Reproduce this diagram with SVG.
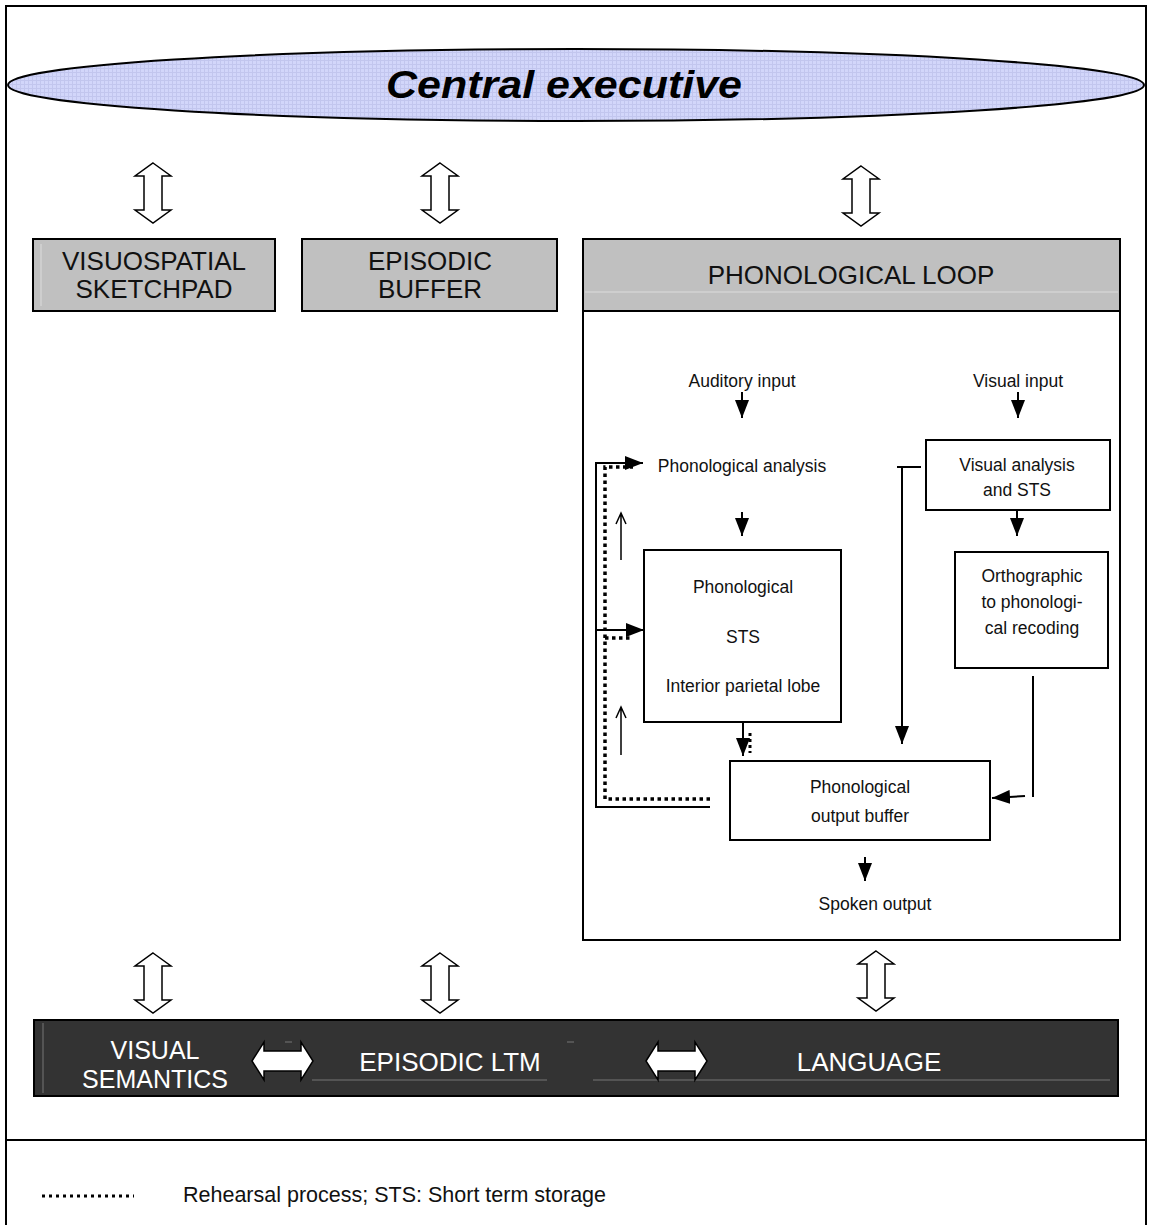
<svg xmlns="http://www.w3.org/2000/svg" xmlns:xlink="http://www.w3.org/1999/xlink" width="1150" height="1225" viewBox="0 0 1150 1225">
<style>
.frame{fill:none;stroke:#000;stroke-width:2}
.gbox{fill:#c0c0c0;stroke:#000;stroke-width:2}
.wbox{fill:#fff;stroke:#000;stroke-width:2}
.big{font-family:"Liberation Sans",Arial,sans-serif;font-size:26px;fill:#111;text-anchor:middle}
.bigw{font-family:"Liberation Sans",Arial,sans-serif;font-size:26px;fill:#fff;text-anchor:middle}
.sm{font-family:"Liberation Sans",Arial,sans-serif;font-size:17.5px;fill:#111;text-anchor:middle}
.leg{font-family:"Liberation Sans",Arial,sans-serif;font-size:21.5px;fill:#111}
.hollow{fill:#fff;stroke:#000;stroke-width:1.5;stroke-linejoin:miter}
.ln{fill:none;stroke:#000;stroke-width:2}
.thin{fill:none;stroke:#000;stroke-width:1.5}
.dot{fill:none;stroke:#000;stroke-width:3.5;stroke-dasharray:3.5 3.5}
.faint{stroke:#dcdcdc;stroke-width:1;fill:none}
.gline{stroke:#777;stroke-width:1;fill:none}
</style>
<defs>
<pattern id="grid" width="4" height="4" patternUnits="userSpaceOnUse">
<rect width="4" height="4" fill="#d2d6fa"/>
<path d="M0,0.5H4M0.5,0V4" stroke="#c2c6ee" stroke-width="1"/>
</pattern>
<marker id="ah" viewBox="0 0 18 14" refX="18" refY="7" markerWidth="18" markerHeight="14" markerUnits="userSpaceOnUse" orient="auto">
<path d="M0,0L18,7L0,14Z" fill="#000"/>
</marker>
<path id="vdarrow" class="hollow" d="M0,0L18,13L9,13L9,47L18,47L0,60L-18,47L-9,47L-9,13L-18,13Z"/>
<path id="hdarrow" d="M0,0L12,-19L12,-10L49,-10L49,-19L61,0L49,19L49,10L12,10L12,19Z" fill="#fff" stroke="#000" stroke-width="1.5"/>
</defs>

<rect x="6" y="6" width="1140" height="1230" class="frame"/>
<line x1="6" y1="1140" x2="1146" y2="1140" class="ln"/>

<g id="central-executive">
<ellipse cx="576" cy="85" rx="568" ry="36" fill="url(#grid)" stroke="#000" stroke-width="2"/>
<text x="564" y="98" font-family="Liberation Sans,Arial,sans-serif" font-size="38" font-weight="bold" font-style="italic" text-anchor="middle" fill="#000" textLength="356" lengthAdjust="spacingAndGlyphs">Central executive</text>
</g>

<g id="visuospatial-sketchpad">
<rect x="33" y="239" width="242" height="72" class="gbox"/>
<line x1="41" y1="244" x2="41" y2="306" class="faint"/>
<text x="154" y="270" class="big">VISUOSPATIAL</text>
<text x="154" y="298" class="big">SKETCHPAD</text>
</g>

<g id="episodic-buffer">
<rect x="302" y="239" width="255" height="72" class="gbox"/>
<text x="430" y="270" class="big">EPISODIC</text>
<text x="430" y="298" class="big">BUFFER</text>
</g>

<g id="phonological-loop">
<rect x="583" y="311" width="537" height="629" class="wbox"/>
<rect x="583" y="239" width="537" height="72" class="gbox"/>
<line x1="585" y1="292" x2="1118" y2="292" class="faint"/>
<text x="851" y="284" class="big">PHONOLOGICAL LOOP</text>
</g>

<g id="auditory-input"><text x="742" y="387" class="sm">Auditory input</text></g>
<g id="visual-input"><text x="1018" y="387" class="sm">Visual input</text></g>
<g id="phonological-analysis"><text x="742" y="472" class="sm">Phonological analysis</text></g>

<g id="phonological-sts">
<rect x="644" y="550" width="197" height="172" class="wbox"/>
<text x="743" y="593" class="sm">Phonological</text>
<text x="743" y="643" class="sm">STS</text>
<text x="743" y="692" class="sm">Interior parietal lobe</text>
</g>

<g id="visual-analysis">
<rect x="926" y="440" width="184" height="70" class="wbox"/>
<text x="1017" y="471" class="sm">Visual analysis</text>
<text x="1017" y="496" class="sm">and STS</text>
</g>

<g id="orthographic-recoding">
<rect x="955" y="552" width="153" height="116" class="wbox"/>
<text x="1032" y="582" class="sm">Orthographic</text>
<text x="1032" y="608" class="sm">to phonologi-</text>
<text x="1032" y="634" class="sm">cal recoding</text>
</g>

<g id="phonological-output-buffer">
<rect x="730" y="761" width="260" height="79" class="wbox"/>
<text x="860" y="793" class="sm">Phonological</text>
<text x="860" y="822" class="sm">output buffer</text>
</g>

<g id="spoken-output"><text x="875" y="910" class="sm">Spoken output</text></g>

<g id="ltm-bar">
<rect x="34" y="1020" width="1084" height="76" fill="#333" stroke="#000" stroke-width="2"/>
<line x1="43" y1="1023" x2="43" y2="1093" class="gline"/>
<line x1="312" y1="1080" x2="547" y2="1080" class="gline"/>
<line x1="593" y1="1080" x2="1110" y2="1080" class="gline"/>
<line x1="285" y1="1042" x2="292" y2="1042" class="gline"/>
<line x1="567" y1="1042" x2="574" y2="1042" class="gline"/>
<text x="155" y="1059" class="bigw" style="font-size:25px">VISUAL</text>
<text x="155" y="1088" class="bigw" style="font-size:25px">SEMANTICS</text>
<text x="450" y="1071" class="bigw">EPISODIC LTM</text>
<text x="869" y="1071" class="bigw">LANGUAGE</text>
</g>

<g id="connectors">
<use xlink:href="#vdarrow" x="153" y="163"/>
<use xlink:href="#vdarrow" x="440" y="163"/>
<use xlink:href="#vdarrow" x="861" y="166"/>
<use xlink:href="#vdarrow" x="153" y="953"/>
<use xlink:href="#vdarrow" x="440" y="953"/>
<use xlink:href="#vdarrow" x="876" y="951"/>
<use xlink:href="#hdarrow" x="252" y="1061"/>
<use xlink:href="#hdarrow" x="646" y="1061"/>

<line x1="742" y1="392" x2="742" y2="418" class="ln" marker-end="url(#ah)"/>
<line x1="1018" y1="392" x2="1018" y2="418" class="ln" marker-end="url(#ah)"/>
<line x1="742" y1="512" x2="742" y2="536" class="ln" marker-end="url(#ah)"/>
<line x1="1017" y1="510" x2="1017" y2="536" class="ln" marker-end="url(#ah)"/>
<line x1="743" y1="722" x2="743" y2="756" class="ln" marker-end="url(#ah)"/>
<line x1="750" y1="733" x2="750" y2="753" stroke="#000" stroke-width="3" stroke-dasharray="3 3"/>
<line x1="865" y1="857" x2="865" y2="881" class="ln" marker-end="url(#ah)"/>

<path d="M710,807H596V463H643" class="ln" marker-end="url(#ah)"/>
<line x1="596" y1="630" x2="644" y2="630" class="ln" marker-end="url(#ah)"/>
<path d="M710,799H605V467H633" class="dot"/>
<path d="M605,638H630" class="dot"/>

<path d="M621,560V514M616,524L621,513L626,524" class="thin"/>
<path d="M621,755V708M616,718L621,707L626,718" class="thin"/>

<path d="M897,467H921M902,467V744" class="ln" marker-end="url(#ah)"/>
<line x1="1033" y1="676" x2="1033" y2="797" class="ln"/>
<line x1="1025" y1="796" x2="992" y2="798" class="ln" marker-end="url(#ah)"/>
</g>

<g id="legend">
<line x1="42" y1="1196" x2="134" y2="1196" stroke="#000" stroke-width="3" stroke-dasharray="3 4"/>
<text x="183" y="1202" class="leg">Rehearsal process; STS: Short term storage</text>
</g>
</svg>
